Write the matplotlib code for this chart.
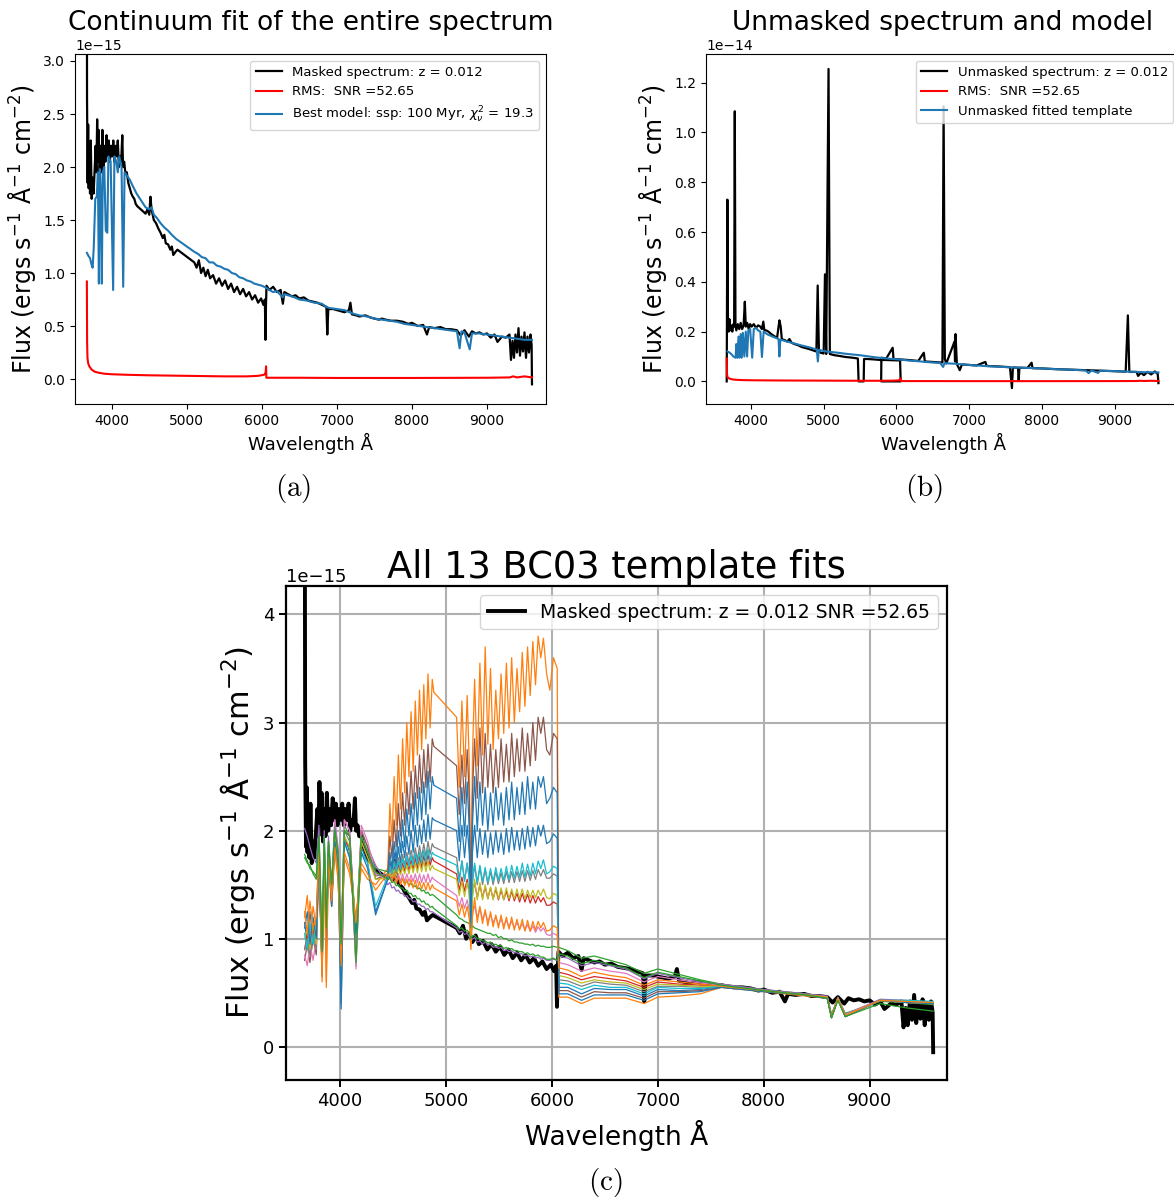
import matplotlib.pyplot as plt

plt.rcParams["font.family"] = "DejaVu Sans"
plt.rcParams["mathtext.fontset"] = "dejavusans"

# all fluxes below are in units of 1e-15 erg s^-1 A^-1 cm^-2
UNIT = 1e-15

# masked spectrum (used in panels a and c)
MASK_WAVE = [
    3664, 3670, 3678, 3685, 3692, 3700, 3710, 3720, 3732, 3745,
    3758, 3770, 3785, 3795, 3805, 3815, 3825, 3838, 3850, 3862,
    3875, 3888, 3900, 3915, 3930, 3945, 3960, 3975, 3990, 4005,
    4020, 4035, 4050, 4065, 4080, 4095, 4110, 4125, 4140, 4150,
    4165, 4180, 4200, 4220, 4240, 4260, 4280, 4300, 4320, 4340,
    4450, 4475, 4500, 4515, 4530, 4560, 4590, 4620, 4650, 4680,
    4700, 4720, 4750, 4780, 4800, 4820, 4850, 4875, 5100, 5130,
    5160, 5190, 5220, 5250, 5280, 5310, 5350, 5390, 5430, 5470,
    5510, 5550, 5590, 5630, 5670, 5710, 5750, 5790, 5830, 5870,
    5910, 5950, 5990, 6020, 6040, 6048, 6055, 6062, 6100, 6150,
    6200, 6250, 6280, 6300, 6350, 6400, 6450, 6500, 6560, 6620,
    6680, 6740, 6800, 6860, 6872, 6885, 6950, 7000, 7050, 7100,
    7160, 7180, 7200, 7260, 7300, 7380, 7450, 7500, 7560, 7600,
    7650, 7720, 7800, 7880, 7950, 8000, 8080, 8150, 8200, 8230,
    8300, 8380, 8450, 8520, 8600, 8650, 8700, 8760, 8800, 8850,
    8900, 8950, 9000, 9050, 9100, 9140, 9200, 9250, 9300, 9320,
    9340, 9360, 9380, 9400, 9420, 9440, 9460, 9480, 9500, 9520,
    9540, 9560, 9580, 9595, 9600,
]
MASK_FLUX = [
    7.3, 2.65, 1.85, 2.4, 1.8, 2.2, 1.75, 2.25, 1.7, 1.9,
    1.75, 1.95, 2.2, 1.95, 2.45, 2.05, 2.35, 1.9, 2.2, 1.95,
    2.35, 2.0, 2.2, 2.05, 2.3, 2.1, 2.25, 2.05, 2.2, 2.1,
    2.25, 2.05, 2.2, 2.1, 2.25, 2.0, 2.1, 2.05, 2.3, 2.0,
    2.05, 1.95, 1.95, 1.85, 1.8, 1.75, 1.72, 1.7, 1.65, 1.63,
    1.56, 1.6, 1.55, 1.72, 1.6, 1.5, 1.47, 1.42, 1.38, 1.33,
    1.36, 1.28, 1.27, 1.22, 1.25, 1.17, 1.2, 1.22, 1.1, 1.05,
    1.12, 1.0, 1.05, 0.97, 1.03, 0.95, 0.98, 0.9, 0.95, 0.88,
    0.93, 0.85, 0.9, 0.82, 0.87, 0.8, 0.85, 0.78, 0.82, 0.75,
    0.79, 0.72, 0.76, 0.7, 0.75, 0.37, 0.7, 0.88, 0.84, 0.87,
    0.82, 0.84, 0.71, 0.82, 0.8, 0.78, 0.79, 0.76, 0.77, 0.74,
    0.73, 0.72, 0.7, 0.68, 0.42, 0.66, 0.66, 0.65, 0.64, 0.63,
    0.65, 0.72, 0.61, 0.6, 0.59, 0.6, 0.58, 0.57, 0.56, 0.57,
    0.56, 0.55, 0.55, 0.54, 0.52, 0.53, 0.5, 0.51, 0.42, 0.49,
    0.48, 0.49, 0.47, 0.47, 0.46, 0.41, 0.46, 0.4, 0.45, 0.43,
    0.44, 0.42, 0.43, 0.39, 0.42, 0.35, 0.4, 0.39, 0.42, 0.18,
    0.36, 0.2, 0.42, 0.25, 0.48, 0.22, 0.4, 0.26, 0.44, 0.2,
    0.4, 0.25, 0.42, 0.32, -0.05,
]

# unmasked spectrum with emission lines (panel b)
FULL_WAVE = [
    3668, 3677, 3685, 3695, 3705, 3715, 3730, 3745, 3760, 3770,
    3779, 3788, 3800, 3820, 3840, 3860, 3880, 3900, 3917, 3930,
    3950, 3970, 3990, 4010, 4040, 4070, 4100, 4130, 4152, 4171,
    4185, 4210, 4240, 4280, 4320, 4360, 4392, 4410, 4425, 4470,
    4500, 4530, 4560, 4600, 4650, 4700, 4750, 4800, 4850, 4900,
    4918, 4935, 4960, 5000, 5018, 5035, 5067, 5085, 5150, 5200,
    5300, 5400, 5470, 5480, 5550, 5555, 5600, 5700, 5780, 5850,
    5950, 6050, 6058, 5790, 5793, 5860, 5948, 5960, 6060, 6200,
    6300, 6376, 6390, 6500, 6600, 6632, 6648, 6665, 6685, 6798,
    6805, 6812, 6830, 6870, 6900, 7000, 7100, 7222, 7240, 7400,
    7560, 7587, 7600, 7670, 7680, 7690, 7800, 7857, 7870, 8000,
    8200, 8400, 8600, 8800, 9000, 9150, 9180, 9200, 9300, 9320,
    9360, 9400, 9450, 9500, 9550, 9590, 9600,
]
FULL_FLUX = [
    0.0, 7.3, 2.3, 2.0, 2.5, 2.05, 2.25, 2.0, 2.3, 2.2,
    10.85, 2.3, 2.05, 2.3, 2.1, 2.35, 2.1, 2.25, 3.2, 2.2,
    2.35, 2.1, 2.3, 2.2, 2.3, 2.15, 2.25, 2.2, 2.1, 2.4,
    2.05, 2.05, 2.0, 1.9, 1.82, 1.75, 2.45, 2.2, 1.7, 1.65,
    1.6, 1.7, 1.55, 1.5, 1.45, 1.38, 1.34, 1.3, 1.25, 1.2,
    3.85, 1.2, 1.15, 1.12, 4.3, 1.1, 12.55, 1.1, 1.05, 1.03,
    0.98, 0.95, 0.92, 0.0, 0.0, 0.9, 0.9, 0.88, 0.86, 0.86,
    0.85, 0.84, 0.0, 0.0, 0.95, 0.92, 1.35, 0.9, 0.88, 0.85,
    0.82, 1.15, 0.8, 0.78, 0.76, 0.76, 11.05, 0.9, 0.72, 1.6,
    0.8, 1.9, 0.7, 0.45, 0.68, 0.66, 0.64, 0.78, 0.62, 0.6,
    0.57, -0.27, 0.56, 0.55, 0.05, 0.55, 0.54, 0.75, 0.53, 0.52,
    0.49, 0.47, 0.45, 0.43, 0.41, 0.39, 2.65, 0.38, 0.38, 0.22,
    0.35, 0.25, 0.38, 0.28, 0.4, 0.3, -0.07,
]

RMS_WAVE = [
    3668, 3671, 3676, 3685, 3700, 3730, 3770, 3820, 3900, 4000,
    4200, 4500, 5000, 5500, 5800, 5950, 6030, 6050, 6056, 6060,
    6500, 7000, 8000, 9000, 9300, 9350, 9400, 9500, 9600,
]
RMS_FLUX = [
    0.92, 0.35, 0.2, 0.15, 0.12, 0.09, 0.07, 0.06, 0.05, 0.045,
    0.04, 0.035, 0.03, 0.025, 0.025, 0.03, 0.04, 0.06, 0.12, 0.012,
    0.012, 0.01, 0.01, 0.012, 0.015, 0.025, 0.015, 0.025, 0.015,
]

# best model, masked regions bridged (panel a)
MODEL_A_WAVE = [
    3668, 3690, 3710, 3730, 3745, 3760, 3780, 3800, 3815, 3828,
    3842, 3855, 3867, 3880, 3900, 3920, 3940, 3955, 3985, 4018,
    4035, 4060, 4080, 4100, 4130, 4152, 4170, 4200, 4240, 4280,
    4330, 4450, 4500, 4530, 4560, 4600, 4650, 4700, 4750, 4800,
    4860, 4880, 5100, 5150, 5200, 5250, 5300, 5350, 5400, 5450,
    5500, 5550, 5600, 5650, 5700, 5750, 5800, 5850, 5900, 5950,
    6000, 6060, 6100, 6150, 6200, 6280, 6300, 6400, 6500, 6600,
    6700, 6800, 6860, 6900, 7000, 7100, 7200, 7300, 7400, 7500,
    7600, 7700, 7800, 7900, 8000, 8100, 8200, 8300, 8400, 8500,
    8600, 8635, 8660, 8700, 8770, 8800, 8900, 9000, 9100, 9200,
    9300, 9400, 9500, 9600,
]
MODEL_A_FLUX = [
    1.19, 1.16, 1.14, 1.08, 1.05, 1.25, 1.7, 1.72, 1.95, 0.9,
    1.98, 1.7, 0.9, 1.95, 2.0, 1.4, 1.38, 2.1, 2.05, 0.84,
    2.1, 2.05, 1.95, 2.1, 2.0, 0.87, 1.95, 1.92, 1.88, 1.82,
    1.75, 1.62, 1.6, 1.62, 1.55, 1.52, 1.47, 1.43, 1.4, 1.36,
    1.32, 1.31, 1.2, 1.18, 1.15, 1.14, 1.1, 1.1, 1.07, 1.06,
    1.04, 1.03, 1.0, 0.99, 0.96, 0.95, 0.93, 0.92, 0.9, 0.89,
    0.88, 0.86, 0.84, 0.82, 0.83, 0.77, 0.8, 0.78, 0.75, 0.74,
    0.72, 0.71, 0.68, 0.67, 0.66, 0.65, 0.62, 0.6, 0.59, 0.57,
    0.56, 0.55, 0.54, 0.52, 0.51, 0.5, 0.49, 0.48, 0.47, 0.46,
    0.45, 0.29, 0.45, 0.44, 0.28, 0.43, 0.43, 0.42, 0.41, 0.4,
    0.39, 0.38, 0.37, 0.37,
]

# fitted template on the unmasked spectrum (panel b)
MODEL_B_WAVE = [
    3680, 3700, 3730, 3760, 3790, 3800, 3815, 3830, 3845, 3860,
    3875, 3890, 3910, 3930, 3948, 3965, 3990, 4018, 4040, 4070,
    4100, 4130, 4152, 4175, 4220, 4280, 4340, 4380, 4392, 4405,
    4450, 4500, 4600, 4700, 4800, 4880, 4905, 4920, 4935, 5000,
    5100, 5200, 5300, 5400, 5500, 5600, 5700, 5800, 5900, 6000,
    6100, 6200, 6300, 6400, 6500, 6600, 6642, 6660, 6800, 7000,
    7200, 7400, 7600, 7800, 8000, 8200, 8400, 8600, 8640, 8680,
    8770, 8800, 9000, 9200, 9400, 9600,
]
MODEL_B_FLUX = [
    1.2, 1.17, 1.1, 1.0, 0.95, 1.5, 0.95, 1.8, 0.95, 1.9,
    0.95, 1.95, 1.0, 2.0, 1.0, 2.05, 2.1, 0.95, 2.1, 2.15,
    2.05, 2.0, 0.98, 2.0, 1.9, 1.82, 1.75, 1.7, 1.0, 1.68,
    1.64, 1.6, 1.52, 1.44, 1.37, 1.3, 1.28, 0.8, 1.27, 1.22,
    1.18, 1.15, 1.11, 1.08, 1.05, 1.01, 0.97, 0.94, 0.91, 0.89,
    0.86, 0.83, 0.81, 0.78, 0.76, 0.74, 0.58, 0.73, 0.71, 0.66,
    0.62, 0.59, 0.56, 0.54, 0.52, 0.49, 0.47, 0.44, 0.33, 0.44,
    0.34, 0.43, 0.41, 0.39, 0.37, 0.36,
]

# wavelength grid shared by the 13 BC03 templates (masked gaps are bridged)
TPL_WAVE = [
    # 3665-4335
    3665, 3690, 3715, 3745, 3775, 3800, 3830, 3850, 3870, 3890,
    3920, 3950, 3980, 4010, 4040, 4090, 4150, 4200, 4260, 4335,
    # 4450-4885
    4450, 4470, 4490, 4510, 4530, 4550, 4570, 4590, 4610, 4630,
    4650, 4670, 4690, 4710, 4730, 4750, 4770, 4790, 4810, 4830,
    4850, 4870, 4885,
    # 5100-6050
    5100, 5125, 5150, 5175, 5200, 5220, 5235, 5250, 5270, 5295,
    5320, 5345, 5370, 5395, 5420, 5445, 5470, 5495, 5520, 5545,
    5570, 5595, 5620, 5645, 5670, 5695, 5720, 5745, 5770, 5795,
    5820, 5845, 5870, 5895, 5920, 5950, 5980, 6015, 6050,
    # 6065-9600
    6065, 6150, 6280, 6400, 6550, 6700, 6870, 7000, 7200, 7400,
    7600, 8000, 8400, 8600, 8640, 8700, 8770, 9100, 9350, 9600,
]

TPL_01 = [
    1.15, 0.95, 1.25, 1.0, 1.2, 1.85, 0.7, 1.9, 1.05, 1.85, 1.4, 1.95, 1.75, 0.35, 1.95, 1.8, 1.1, 1.85, 1.7, 1.25,
    1.55, 1.72, 1.6, 1.8, 1.65, 1.85, 1.7, 1.9, 1.75, 1.95, 1.78, 2.0, 1.8, 2.05, 1.85, 2.05, 1.88, 2.1, 1.9, 2.15,
    1.92, 2.12, 2.1,
    2.0, 1.72, 2.05, 1.75, 2.05, 1.78, 1.2, 1.8, 2.05, 1.75, 2.02, 1.78, 2.0, 1.75, 1.98, 1.78, 2.0, 1.8, 1.98, 1.78,
    2.02, 1.8, 2.03, 1.82, 2.0, 1.82, 2.02, 1.83, 2.04, 1.85, 2.03, 1.86, 2.05, 1.95, 2.05, 1.88, 1.9, 1.97, 1.93,
    0.55, 0.55, 0.49, 0.54, 0.53, 0.53, 0.47, 0.53, 0.52, 0.53, 0.56, 0.52, 0.48, 0.45, 0.27, 0.44, 0.28, 0.43, 0.42, 0.41,
]
TPL_02 = [
    1.2, 1.4, 1.0, 1.3, 1.1, 1.7, 0.75, 1.8, 0.55, 1.75, 1.3, 1.8, 1.55, 0.8, 1.75, 1.6, 1.2, 1.65, 1.55, 1.5,
    1.65, 2.25, 1.9, 2.5, 2.05, 2.7, 2.2, 2.85, 2.35, 3.0, 2.5, 3.1, 2.55, 3.2, 2.7, 3.3, 2.75, 3.35, 2.85, 3.45,
    2.95, 3.4, 3.28,
    3.05, 2.4, 3.2, 2.5, 3.25, 2.6, 1.2, 2.7, 3.4, 2.6, 3.55, 2.7, 3.7, 2.8, 3.5, 2.75, 3.3, 2.85, 3.45, 2.9,
    3.55, 2.95, 3.6, 3.0, 3.5, 3.1, 3.65, 3.15, 3.7, 3.25, 3.75, 3.35, 3.8, 3.6, 3.78, 3.45, 3.3, 3.6, 3.5,
    0.46, 0.46, 0.4, 0.45, 0.45, 0.45, 0.4, 0.46, 0.47, 0.49, 0.55, 0.51, 0.47, 0.45, 0.27, 0.44, 0.28, 0.43, 0.42, 0.41,
]
TPL_03 = [
    1.75, 1.7, 1.68, 1.6, 1.55, 2.0, 0.9, 1.95, 1.1, 1.9, 1.45, 2.05, 1.8, 0.9, 2.05, 1.95, 0.75, 1.95, 1.8, 1.65,
    1.62, 1.63, 1.59, 1.6, 1.56, 1.57, 1.54, 1.55, 1.52, 1.53, 1.5, 1.51, 1.48, 1.49, 1.46, 1.47, 1.44, 1.45, 1.42, 1.43,
    1.4, 1.41, 1.4,
    1.22, 1.19, 1.18, 1.16, 1.15, 1.14, 1.08, 1.12, 1.1, 1.09, 1.08, 1.07, 1.06, 1.05, 1.05, 1.03, 1.04, 1.01, 1.02, 1.0,
    1.0, 0.98, 0.99, 0.97, 0.97, 0.96, 0.96, 0.95, 0.95, 0.94, 0.95, 0.93, 0.94, 0.93, 0.93, 0.92, 0.92, 0.93, 0.92,
    0.92, 0.89, 0.82, 0.84, 0.8, 0.76, 0.68, 0.72, 0.67, 0.62, 0.58, 0.53, 0.49, 0.46, 0.3, 0.45, 0.31, 0.42, 0.41, 0.39,
]
TPL_04 = [
    0.9, 1.05, 0.85, 1.1, 0.95, 1.8, 0.8, 1.85, 1.0, 1.8, 1.35, 1.95, 1.7, 0.85, 1.9, 1.85, 1.0, 1.9, 1.75, 1.6,
    1.57, 1.64, 1.58, 1.67, 1.6, 1.69, 1.61, 1.7, 1.62, 1.72, 1.63, 1.73, 1.64, 1.75, 1.65, 1.76, 1.66, 1.77, 1.67, 1.78,
    1.68, 1.75, 1.72,
    1.6, 1.45, 1.57, 1.44, 1.55, 1.42, 1.05, 1.42, 1.52, 1.38, 1.5, 1.38, 1.48, 1.37, 1.47, 1.37, 1.46, 1.36, 1.45, 1.36,
    1.44, 1.35, 1.44, 1.35, 1.42, 1.34, 1.42, 1.34, 1.41, 1.33, 1.4, 1.33, 1.39, 1.34, 1.38, 1.31, 1.31, 1.34, 1.32,
    0.69, 0.67, 0.62, 0.65, 0.63, 0.61, 0.55, 0.6, 0.58, 0.57, 0.56, 0.52, 0.48, 0.46, 0.28, 0.45, 0.29, 0.43, 0.41, 0.4,
]
TPL_05 = [
    2.02, 1.95, 1.85, 1.75, 1.7, 2.05, 0.85, 2.0, 1.05, 1.95, 1.5, 2.1, 1.85, 0.9, 2.1, 2.0, 0.95, 2.0, 1.85, 1.68,
    1.5, 1.52, 1.47, 1.48, 1.44, 1.45, 1.42, 1.42, 1.39, 1.4, 1.37, 1.37, 1.34, 1.35, 1.32, 1.32, 1.3, 1.3, 1.27, 1.28,
    1.25, 1.25, 1.24,
    1.1, 1.06, 1.07, 1.04, 1.05, 1.02, 0.98, 1.0, 1.01, 0.97, 0.98, 0.95, 0.97, 0.94, 0.95, 0.92, 0.93, 0.91, 0.92, 0.89,
    0.9, 0.88, 0.89, 0.87, 0.87, 0.86, 0.86, 0.84, 0.85, 0.83, 0.84, 0.82, 0.83, 0.81, 0.82, 0.8, 0.8, 0.81, 0.8,
    0.84, 0.82, 0.75, 0.78, 0.75, 0.72, 0.63, 0.68, 0.64, 0.6, 0.58, 0.53, 0.49, 0.47, 0.29, 0.46, 0.3, 0.44, 0.43, 0.41,
]
TPL_06 = [
    0.8, 0.95, 0.78, 1.0, 0.85, 1.75, 0.65, 1.8, 0.9, 1.8, 1.3, 2.0, 1.8, 0.7, 2.0, 1.95, 1.05, 2.0, 1.85, 1.55,
    1.6, 1.95, 1.75, 2.1, 1.85, 2.25, 1.95, 2.35, 2.05, 2.45, 2.15, 2.55, 2.2, 2.6, 2.3, 2.7, 2.35, 2.75, 2.4, 2.8,
    2.45, 2.85, 2.78,
    2.6, 2.15, 2.7, 2.25, 2.75, 2.3, 1.3, 2.35, 2.85, 2.3, 2.95, 2.35, 2.9, 2.4, 2.8, 2.35, 2.75, 2.4, 2.85, 2.45,
    2.8, 2.45, 2.9, 2.5, 2.85, 2.55, 2.95, 2.55, 2.9, 2.6, 3.0, 2.65, 3.05, 2.9, 3.05, 2.75, 2.7, 2.9, 2.85,
    0.52, 0.52, 0.46, 0.51, 0.5, 0.5, 0.45, 0.51, 0.51, 0.52, 0.55, 0.52, 0.48, 0.45, 0.27, 0.44, 0.28, 0.43, 0.41, 0.4,
]
TPL_07 = [
    0.85, 0.75, 0.95, 0.8, 1.0, 1.7, 0.72, 1.85, 0.95, 1.85, 1.35, 2.1, 1.8, 0.9, 2.1, 2.0, 0.72, 2.05, 1.9, 1.6,
    1.55, 1.6, 1.54, 1.61, 1.54, 1.6, 1.53, 1.6, 1.53, 1.6, 1.53, 1.59, 1.53, 1.6, 1.52, 1.6, 1.52, 1.59, 1.52, 1.6,
    1.52, 1.57, 1.55,
    1.4, 1.3, 1.38, 1.28, 1.36, 1.26, 0.95, 1.25, 1.3, 1.2, 1.28, 1.18, 1.25, 1.16, 1.22, 1.15, 1.2, 1.13, 1.18, 1.12,
    1.17, 1.11, 1.16, 1.1, 1.15, 1.09, 1.14, 1.08, 1.13, 1.07, 1.12, 1.06, 1.11, 1.07, 1.1, 1.04, 1.03, 1.05, 1.03,
    0.78, 0.76, 0.7, 0.73, 0.7, 0.68, 0.6, 0.65, 0.62, 0.59, 0.57, 0.52, 0.48, 0.46, 0.28, 0.45, 0.3, 0.43, 0.42, 0.4,
]
TPL_08 = [
    0.9, 1.0, 0.85, 1.05, 0.9, 1.75, 0.78, 1.85, 1.0, 1.85, 1.4, 2.05, 1.75, 0.85, 2.0, 1.9, 1.05, 1.95, 1.8, 1.58,
    1.6, 1.68, 1.62, 1.72, 1.64, 1.75, 1.66, 1.78, 1.68, 1.8, 1.7, 1.82, 1.72, 1.84, 1.73, 1.86, 1.75, 1.88, 1.76, 1.9,
    1.78, 1.88, 1.85,
    1.75, 1.55, 1.72, 1.54, 1.7, 1.55, 1.1, 1.52, 1.68, 1.5, 1.66, 1.5, 1.64, 1.5, 1.62, 1.5, 1.62, 1.51, 1.61, 1.51,
    1.62, 1.52, 1.62, 1.52, 1.62, 1.53, 1.63, 1.53, 1.63, 1.54, 1.63, 1.55, 1.64, 1.58, 1.64, 1.56, 1.56, 1.6, 1.58,
    0.62, 0.61, 0.56, 0.6, 0.58, 0.57, 0.51, 0.56, 0.56, 0.55, 0.56, 0.52, 0.48, 0.46, 0.27, 0.45, 0.29, 0.43, 0.42, 0.41,
]
TPL_09 = [
    1.0, 1.1, 0.9, 1.15, 0.95, 1.8, 0.82, 1.85, 1.05, 1.8, 1.4, 1.95, 1.7, 0.9, 1.95, 1.85, 1.1, 1.9, 1.75, 1.55,
    1.56, 1.62, 1.57, 1.64, 1.58, 1.65, 1.59, 1.66, 1.6, 1.68, 1.6, 1.69, 1.61, 1.7, 1.61, 1.71, 1.62, 1.72, 1.62, 1.72,
    1.63, 1.68, 1.65,
    1.55, 1.4, 1.53, 1.39, 1.52, 1.4, 1.0, 1.38, 1.55, 1.36, 1.52, 1.36, 1.5, 1.37, 1.48, 1.36, 1.48, 1.37, 1.47, 1.36,
    1.47, 1.37, 1.46, 1.37, 1.46, 1.37, 1.46, 1.37, 1.45, 1.38, 1.45, 1.38, 1.45, 1.4, 1.46, 1.38, 1.37, 1.42, 1.4,
    0.66, 0.64, 0.59, 0.62, 0.6, 0.59, 0.53, 0.58, 0.57, 0.56, 0.56, 0.52, 0.48, 0.46, 0.27, 0.45, 0.29, 0.43, 0.41, 0.4,
]
TPL_10 = [
    1.05, 0.9, 1.15, 0.95, 1.1, 1.75, 0.75, 1.8, 1.0, 1.75, 1.35, 1.9, 1.65, 0.7, 1.9, 1.75, 1.05, 1.8, 1.7, 1.3,
    1.58, 1.66, 1.6, 1.7, 1.62, 1.72, 1.64, 1.74, 1.66, 1.76, 1.67, 1.77, 1.68, 1.79, 1.69, 1.8, 1.7, 1.82, 1.71, 1.83,
    1.72, 1.8, 1.78,
    1.68, 1.52, 1.72, 1.53, 1.7, 1.55, 1.15, 1.55, 1.7, 1.52, 1.68, 1.53, 1.66, 1.52, 1.65, 1.53, 1.66, 1.54, 1.65, 1.54,
    1.67, 1.55, 1.68, 1.56, 1.67, 1.57, 1.7, 1.57, 1.69, 1.58, 1.7, 1.6, 1.72, 1.65, 1.73, 1.6, 1.62, 1.67, 1.65,
    0.59, 0.58, 0.53, 0.57, 0.55, 0.55, 0.49, 0.55, 0.54, 0.54, 0.56, 0.52, 0.48, 0.45, 0.27, 0.45, 0.28, 0.43, 0.43, 0.42,
]
TPL_11 = [
    1.1, 1.25, 0.95, 1.2, 1.0, 1.75, 0.7, 1.8, 0.95, 1.8, 1.3, 1.9, 1.7, 0.4, 1.9, 1.75, 1.05, 1.8, 1.65, 1.22,
    1.55, 1.8, 1.65, 1.9, 1.72, 2.0, 1.8, 2.1, 1.85, 2.2, 1.95, 2.25, 2.0, 2.35, 2.05, 2.4, 2.1, 2.45, 2.15, 2.55,
    2.2, 2.5, 2.42,
    2.3, 1.9, 2.4, 1.95, 2.45, 2.0, 1.1, 2.05, 2.5, 2.0, 2.45, 2.05, 2.4, 2.0, 2.35, 2.05, 2.4, 2.1, 2.35, 2.05,
    2.4, 2.1, 2.45, 2.1, 2.4, 2.15, 2.45, 2.15, 2.5, 2.2, 2.45, 2.2, 2.5, 2.4, 2.5, 2.25, 2.3, 2.4, 2.35,
    0.49, 0.49, 0.43, 0.48, 0.48, 0.48, 0.43, 0.49, 0.5, 0.51, 0.55, 0.51, 0.48, 0.45, 0.27, 0.44, 0.28, 0.43, 0.41, 0.4,
]
TPL_12 = [
    1.25, 1.05, 1.35, 1.1, 1.2, 1.8, 0.6, 1.8, 0.6, 1.75, 1.35, 1.85, 1.6, 0.75, 1.8, 1.65, 1.15, 1.7, 1.6, 1.45,
    1.6, 1.58, 1.52, 1.6, 1.51, 1.57, 1.5, 1.56, 1.49, 1.55, 1.48, 1.55, 1.47, 1.54, 1.46, 1.53, 1.46, 1.52, 1.45, 1.52,
    1.45, 1.5, 1.47,
    1.35, 1.22, 1.32, 1.2, 1.3, 1.18, 0.9, 1.2, 1.38, 1.15, 1.3, 1.14, 1.27, 1.12, 1.25, 1.11, 1.22, 1.1, 1.22, 1.09,
    1.2, 1.09, 1.2, 1.08, 1.18, 1.08, 1.18, 1.07, 1.17, 1.07, 1.16, 1.08, 1.16, 1.1, 1.15, 1.07, 1.08, 1.12, 1.1,
    0.73, 0.71, 0.65, 0.69, 0.66, 0.64, 0.57, 0.62, 0.6, 0.58, 0.56, 0.52, 0.48, 0.46, 0.28, 0.45, 0.29, 0.43, 0.42, 0.41,
]
TPL_13 = [
    1.78, 1.72, 1.65, 1.62, 1.58, 1.95, 0.88, 1.95, 1.1, 1.9, 1.5, 2.0, 1.8, 0.95, 2.0, 1.95, 0.78, 1.95, 1.8, 1.62,
    1.55, 1.56, 1.52, 1.53, 1.49, 1.5, 1.47, 1.47, 1.44, 1.45, 1.42, 1.42, 1.39, 1.4, 1.37, 1.37, 1.34, 1.35, 1.32, 1.32,
    1.29, 1.3, 1.28,
    1.12, 1.09, 1.1, 1.07, 1.08, 1.05, 1.0, 1.03, 1.03, 1.0, 1.0, 0.98, 0.98, 0.96, 0.97, 0.94, 0.95, 0.93, 0.94, 0.91,
    0.92, 0.9, 0.91, 0.89, 0.89, 0.88, 0.88, 0.86, 0.87, 0.85, 0.86, 0.84, 0.85, 0.83, 0.83, 0.81, 0.81, 0.82, 0.8,
    0.86, 0.84, 0.77, 0.8, 0.76, 0.73, 0.64, 0.69, 0.65, 0.61, 0.57, 0.52, 0.48, 0.45, 0.27, 0.43, 0.28, 0.4, 0.36, 0.33,
]

TEMPLATES = [TPL_01, TPL_02, TPL_03, TPL_04, TPL_05, TPL_06, TPL_07,
             TPL_08, TPL_09, TPL_10, TPL_11, TPL_12, TPL_13]

FLUX_LABEL = r"Flux (ergs s$^{-1}$ Å$^{-1}$ cm$^{-2}$)"


def scaled(values):
    return [v * UNIT for v in values]


fig = plt.figure(figsize=(11.74, 12), dpi=100)

# =========================
# (a) continuum fit
# =========================
ax_a = fig.add_axes([0.0639, 0.6633, 0.4012, 0.2917])
ax_a.plot(MASK_WAVE, scaled(MASK_FLUX), color="black", lw=1.6,
          label="Masked spectrum: z = 0.012")
ax_a.plot(RMS_WAVE, scaled(RMS_FLUX), color="red", lw=1.5,
          label="RMS:  SNR =52.65")
ax_a.plot(MODEL_A_WAVE, scaled(MODEL_A_FLUX), color="#1f77b4", lw=1.5,
          label=r"Best model: ssp: 100 Myr, $\chi^2_\nu$ = 19.3")
ax_a.set_xlim(3510, 9787)
ax_a.set_ylim(-0.236 * UNIT, 3.066 * UNIT)
ax_a.set_title("Continuum fit of the entire spectrum", fontsize=19)
ax_a.set_xlabel("Wavelength Å", fontsize=13)
ax_a.set_ylabel(FLUX_LABEL, fontsize=17)
ax_a.legend(loc="upper right", fontsize=9.5)

# =========================
# (b) unmasked spectrum
# =========================
ax_b = fig.add_axes([0.6014, 0.6633, 0.4037, 0.2917])
ax_b.plot(FULL_WAVE, scaled(FULL_FLUX), color="black", lw=1.6,
          label="Unmasked spectrum: z = 0.012")
ax_b.plot(RMS_WAVE, scaled(RMS_FLUX), color="red", lw=1.5,
          label="RMS:  SNR =52.65")
ax_b.plot(MODEL_B_WAVE, scaled(MODEL_B_FLUX), color="#1f77b4", lw=1.5,
          label="Unmasked fitted template")
ax_b.set_xlim(3384, 9896)
ax_b.set_ylim(-0.91 * UNIT, 13.15 * UNIT)
ax_b.set_title("Unmasked spectrum and model", fontsize=19)
ax_b.set_xlabel("Wavelength Å", fontsize=13)
ax_b.set_ylabel(FLUX_LABEL, fontsize=17)
ax_b.legend(loc="upper right", fontsize=9.5)

# =========================
# (c) all template fits
# =========================
ax_c = fig.add_axes([0.2436, 0.1, 0.563, 0.4117])
ax_c.plot(MASK_WAVE, scaled(MASK_FLUX), color="black", lw=2.8,
          label="Masked spectrum: z = 0.012 SNR =52.65")
for tpl in TEMPLATES:
    ax_c.plot(TPL_WAVE, scaled(tpl), lw=0.9)
ax_c.set_xlim(3489, 9730)
ax_c.set_ylim(-0.307 * UNIT, 4.264 * UNIT)
ax_c.set_xticks([4000, 5000, 6000, 7000, 8000, 9000])
ax_c.set_yticks(scaled([0, 1, 2, 3, 4]))
ax_c.grid(True, color="#b0b0b0", lw=1.5)
ax_c.tick_params(labelsize=13, width=1.4, length=5)
ax_c.yaxis.get_offset_text().set_fontsize(13)
for spine in ax_c.spines.values():
    spine.set_linewidth(1.6)
ax_c.set_title("All 13 BC03 template fits", fontsize=26.5)
ax_c.set_xlabel("Wavelength Å", fontsize=19, labelpad=7)
ax_c.set_ylabel(FLUX_LABEL, fontsize=22)
ax_c.legend(loc="upper right", fontsize=13.5)

# sub-figure captions
for x, y, tag in [(0.2496, 0.5933, "(a)"), (0.787, 0.5933, "(b)"), (0.5153, 0.0142, "(c)")]:
    fig.text(x, y, r"$\mathrm{" + tag + "}$", math_fontfamily="cm",
             fontsize=21, ha="center", va="center")

fig.savefig("out.png", dpi=100)
plt.close(fig)
